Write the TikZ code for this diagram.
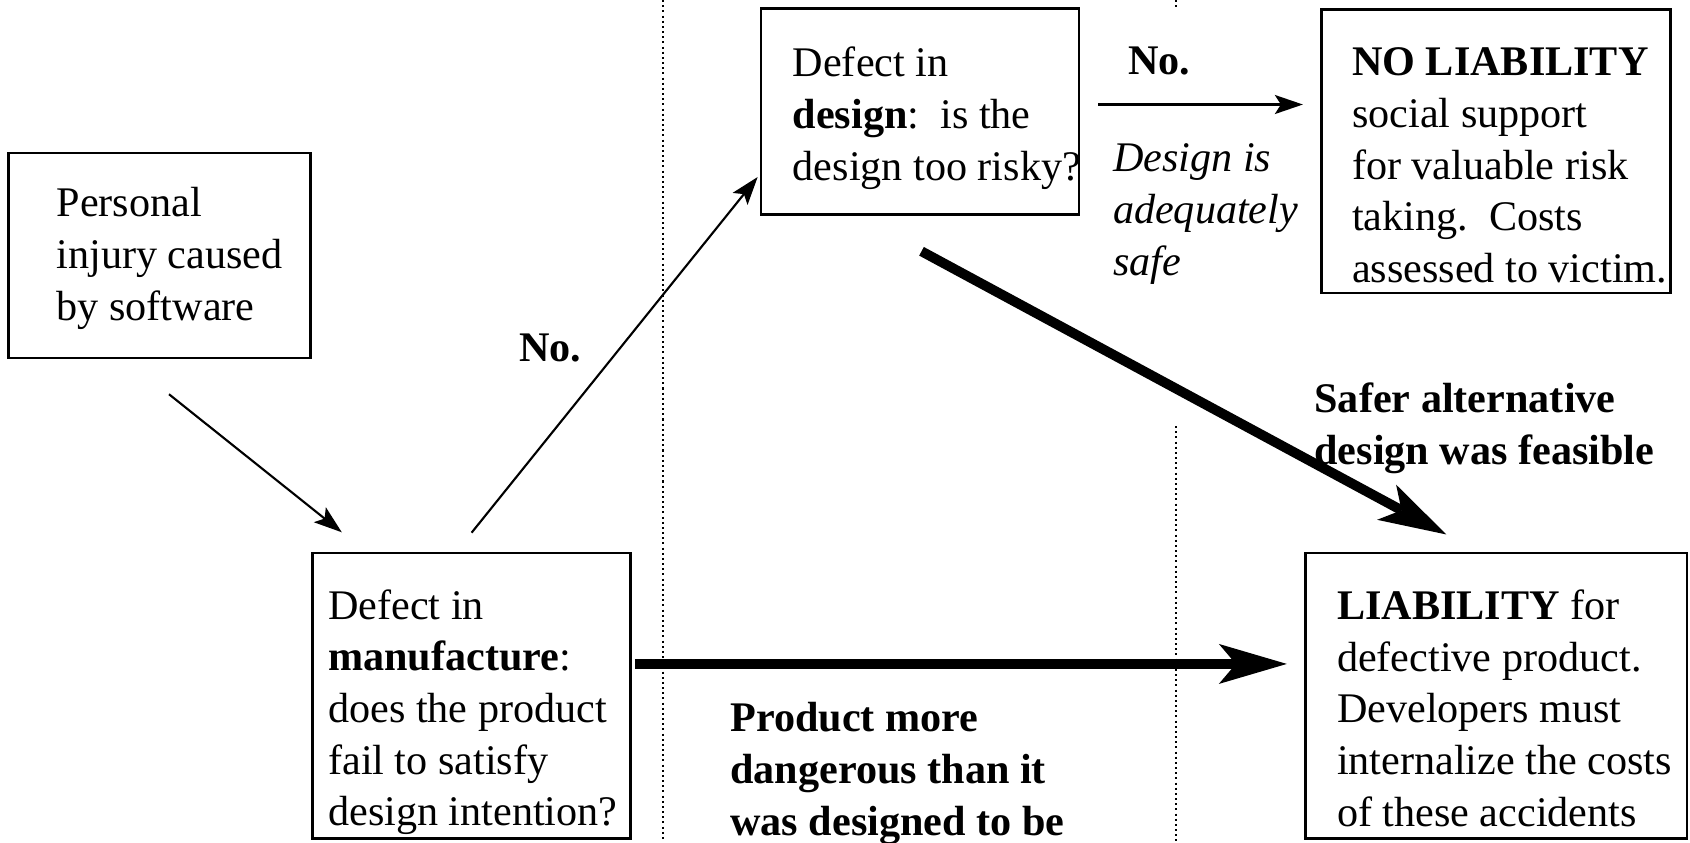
\documentclass[tikz,border=0pt]{standalone}
\usepackage{fontspec}
\setmainfont{Liberation Serif}
\usetikzlibrary{arrows.meta,positioning,calc}

\begin{document}
\begin{tikzpicture}[
    box/.style={draw, line width=0.7pt, inner sep=0pt},
    txt/.style={align=left, inner sep=0pt, font=\fontsize{12}{14.7}\selectfont},
    arr/.style={-{Stealth[length=0.28cm, width=0.19cm, inset=0.06cm]}, line width=0.6pt},
    bigarr/.style={-{Stealth[length=0.68cm, width=0.4cm, inset=0.17cm, line width=0pt]}, line width=2.8pt},
    divider/.style={line width=0.57pt, dash pattern=on 0.57pt off 0.9pt}
]
\useasboundingbox (0,0) rectangle (16.90,-8.42);

% column dividers
\draw[divider] (6.63,0) -- (6.63,-8.42);
\draw[divider] (11.76,0) -- (11.76,-0.08);
\draw[divider] (11.76,-4.26) -- (11.76,-8.42);

% boxes
\node[box, minimum width=3.018cm, minimum height=2.048cm] (injury) at (1.595,-2.554) {};
\node[box, minimum width=3.18cm, minimum height=2.059cm] (design) at (9.199,-1.116) {};
\node[box, minimum width=3.492cm, minimum height=2.835cm] (nolia) at (14.96,-1.514) {};
\node[box, minimum width=3.179cm, minimum height=2.856cm] (manuf) at (4.716,-6.957) {};
\node[box, minimum width=3.815cm, minimum height=2.856cm] (liab) at (14.96,-6.957) {};

\node[txt, right=0.485cm of injury.west, yshift=-0.03cm] (injurytext) {Personal\\injury caused\\by software};
\node[txt, right=0.324cm of design.west, yshift=-0.066cm] (designtext) {Defect in\\\textbf{design}:\ \ is the\\design too risky?};
\node[txt, right=0.312cm of nolia.west, yshift=-0.14cm] (noliatext) {\textbf{NO LIABILITY}\\social support\\for valuable risk\\taking.\ \ Costs\\assessed to victim.};
\node[txt, right=0.161cm of manuf.west, yshift=-0.165cm] (manuftext) {Defect in\\\textbf{manufacture}:\\does the product\\fail to satisfy\\design intention?};
\node[txt, right=0.323cm of liab.west, yshift=-0.125cm] (liabtext) {\textbf{LIABILITY} for\\defective product.\\Developers must\\internalize the costs\\of these accidents};

% labels
\node[txt, font=\fontsize{12}{14.7}\selectfont\bfseries] (nomanuf) at (5.503,-3.481) {No.};
\node[txt, font=\fontsize{12}{14.7}\selectfont\bfseries] (nodesign) at (11.592,-0.614) {No.};
\node[txt, anchor=west, font=\fontsize{12}{14.7}\selectfont\itshape] (safe) at (11.123,-2.141) {Design is\\adequately\\safe};
\node[txt, anchor=west, font=\fontsize{12}{14.7}\selectfont\bfseries] (safer) at (13.138,-4.28) {Safer alternative\\design was feasible};
\node[txt, anchor=west, font=\fontsize{12}{14.7}\selectfont\bfseries] (danger) at (7.297,-7.735) {Product more\\dangerous than it\\was designed to be};

% connectors
\draw[arr] ([xshift=0.095cm,yshift=-0.352cm]injury.south) -- ([xshift=0.304cm,yshift=0.194cm]manuf.north west);
\draw[arr] ([yshift=0.19cm]manuf.north) -- ([xshift=-0.02cm,yshift=0.388cm]design.south west);
\draw[arr] ([xshift=0.183cm,yshift=0.071cm]design.east) -- ($(nolia.west |- design.east)+(-0.173,0.071)$);
\draw[bigarr] ([xshift=0.016cm,yshift=-0.355cm]design.south) -- ([xshift=-0.496cm,yshift=0.172cm]liab.north);
\draw[bigarr] ([xshift=0.032cm,yshift=0.318cm]manuf.east) -- ([xshift=-0.172cm,yshift=0.318cm]liab.west);
\end{tikzpicture}
\end{document}
